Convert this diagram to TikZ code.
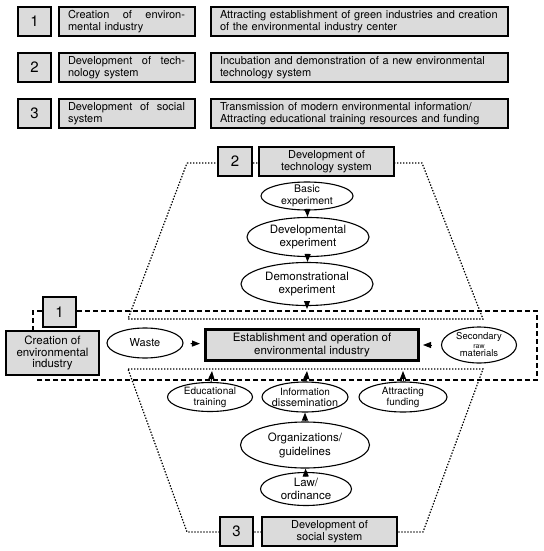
\documentclass[tikz,border=0pt]{standalone}
\usepackage{fontspec}
\setmainfont{TeX Gyre Heros}
\usetikzlibrary{shapes.geometric,arrows.meta}
\definecolor{shade}{gray}{0.86}
\newcommand\myfs[2]{\fontsize{#1}{#2}\selectfont}
\newcommand\spread[2]{\leavevmode\hbox to #1{#2}}
\begin{document}
\begin{tikzpicture}[x=1pt,y=-1pt,
  box/.style={draw, line width=1.2pt, fill=shade, inner sep=0pt},
  numbox/.style={box, minimum width=33pt, minimum height=29pt, font=\myfs{15}{15}},
  midbox/.style={box, minimum width=136pt, minimum height=29pt, text width=118pt, inner xsep=9pt, align=left, font=\myfs{11}{11.5}},
  rbox/.style={box, minimum width=297pt, minimum height=29pt, text width=279pt, inner xsep=9pt, align=left, font=\myfs{11}{11.5}},
  ttlbox/.style={box, minimum width=135pt, minimum height=29pt, align=center, font=\myfs{11}{11.5}},
  ell/.style n args={2}{ellipse, draw, line width=1.1pt, fill=white, inner sep=0pt, minimum width=#1, minimum height=#2},
  arr/.style={-{Triangle[length=8pt,width=6pt]}, line width=0.9pt},
  dashedline/.style={line width=1.2pt, dash pattern=on 5pt off 3pt},
  dottedline/.style={line width=1.2pt, dash pattern=on 1.4pt off 1.6pt},
]
\useasboundingbox (0,0) rectangle (543,551);

% ---- legend table ----
\node[numbox] (n1) at (34.5,21.5) {1};
\node[midbox] (m1) at (127,21.5) {\spread{117pt}{Creation\hfill of\hfill environ-}\\mental industry};
\node[rbox] (r1) at (359.5,21.5) {\mbox{Attracting establishment of green industries and creation}\\\mbox{of the environmental industry center}};
\node[numbox] (n2) at (34.5,67.5) {2};
\node[midbox] (m2) at (127,67.5) {\spread{117pt}{Development\hfill of\hfill tech-}\\nology system};
\node[rbox] (r2) at (359.5,67.5) {\mbox{Incubation and demonstration of a new environmental}\\\mbox{technology system}};
\node[numbox] (n3) at (34.5,113.5) {3};
\node[midbox] (m3) at (127,113.5) {\spread{117pt}{Development\hfill of\hfill social}\\system};
\node[rbox] (r3) at (359.5,113.5) {\mbox{Transmission of modern environmental information/}\\\mbox{Attracting educational training resources and funding}};

% ---- frames ----
\draw[dottedline] (187,163) -- (422,163) -- (483,319) -- (128,319) -- cycle;
\draw[dottedline] (128,369) -- (483,369) -- (423,532) -- (187,532) -- cycle;
\draw[dashedline] (33,331) -- (33,311) -- (537,311) -- (537,380) -- (35,380);

% ---- boxes ----
\node[numbox, minimum height=30pt] (b1) at (59.5,312) {1};
\node[box, minimum width=93pt, minimum height=44pt, align=center, font=\myfs{11.5}{11.5}] (creat) at (52.5,353) {Creation of\\environmental\\industry};
\node[box, line width=3pt, minimum width=213pt, minimum height=31pt, align=center, font=\myfs{11.5}{12.5}] (est) at (312,345) {Establishment and operation of\\environmental industry};
\node[numbox, minimum width=34pt] (b2) at (235,161.5) {2};
\node[ttlbox] (t2) at (326.5,161.5) {Development of\\technology system};
\node[numbox] (b3) at (236.5,531.5) {3};
\node[ttlbox] (t3) at (329.5,531.5) {Development of\\social system};

% ---- ellipses ----
\node[ell={76pt}{30pt}, label={[font=\myfs{11}{12}]center:Waste}] (waste) at (145,343) {};
\node[ell={75pt}{36pt}, label={[align=center,font=\myfs{9.5}{8.5}]center:{Secondary\\{\myfs{7}{7}raw}\\materials}}] (sec) at (479,345) {};
\node[ell={92pt}{28pt}, label={[align=center,font=\myfs{10.5}{11.5}]center:{Basic\\experiment}}] (basic) at (307,196) {};
\node[ell={122pt}{39pt}, label={[align=center,font=\myfs{11.5}{13}]center:{Developmental\\experiment}}] (devel) at (308,237) {};
\node[ell={132pt}{43pt}, label={[align=center,font=\myfs{11.5}{13}]center:{Demonstrational\\experiment}}] (demo) at (307,284) {};
\node[ell={85pt}{29pt}, label={[align=center,font=\myfs{10}{11}]center:{Educational\\training}}] (edu) at (210,397) {};
\node[ell={86pt}{30pt}, label={[align=center,font=\myfs{10}{11}]center:{Information\\{\myfs{10.8}{11}dissemination}}}] (info) at (305,397) {};
\node[ell={88pt}{30pt}, label={[align=center,font=\myfs{10}{11}]center:{Attracting\\funding}}] (attr) at (403,397) {};
\node[ell={129pt}{46pt}, label={[align=center,font=\myfs{11.5}{14}]center:{Organizations/\\guidelines}}] (org) at (305,445) {};
\node[ell={91pt}{33pt}, label={[align=center,font=\myfs{11.5}{13.5}]center:{Law/\\ordinance}}] (law) at (306,489) {};

% ---- connectors ----
\coordinate (dmend) at (307,309);
\coordinate (e1) at (212,371);
\coordinate (e2) at (307,371);
\coordinate (e3) at (403,371);
\draw[arr] (basic) -- (devel);
\draw[arr] (devel) -- (demo);
\draw[arr] (demo) -- (dmend);
\draw[arr] (edu) -- (e1);
\draw[arr] (info) -- (e2);
\draw[arr] (attr) -- (e3);
\draw[arr] (org) -- (info);
\draw[arr] (law) -- (org);
\draw[arr, shorten <=7pt, shorten >=4pt] (waste) -- (est);
\draw[arr, shorten <=9pt, shorten >=3pt] (sec) -- (est);
\end{tikzpicture}
\end{document}
